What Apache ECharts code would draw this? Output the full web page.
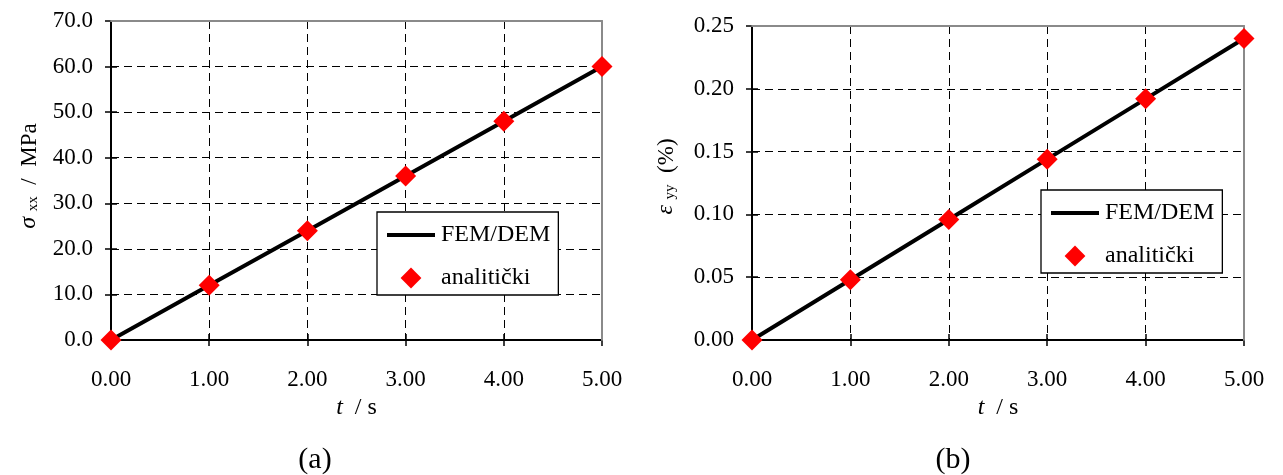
<!DOCTYPE html>
<html><head><meta charset="utf-8">
<script src="https://cdn.jsdelivr.net/npm/echarts@6/dist/echarts.min.js"></script>
<style>html,body{margin:0;padding:0;background:#fff}#c{width:1283px;height:475px}</style>
</head><body><div id="c"></div>
<script>
const timeS = [0, 1, 2, 3, 4, 5];
const femStressA = [0, 12, 24, 36, 48, 60];
const anaStressA = [0, 12, 24, 36, 48, 60];
const femStrainB = [0, 0.048, 0.096, 0.144, 0.192, 0.240];
const anaStrainB = [0, 0.048, 0.096, 0.144, 0.192, 0.240];
const seriesNames = ['FEM/DEM', 'analitički'];
const captions = ['(a)', '(b)'];

const FONT = 'Liberation Serif';
const pair = (xs, ys) => xs.map((x, i) => [x, ys[i]]);

function axesFor(gi, dim, cfg) {
  const main = {
    type: 'value', gridIndex: gi, min: cfg.min, max: cfg.max, interval: cfg.interval,
    position: dim === 'x' ? 'bottom' : 'left',
    axisLine: { show: true, onZero: false, lineStyle: { color: '#000', width: 2 } },
    axisTick: { show: true, inside: false, length: 6, lineStyle: { color: '#000', width: 1.5 } },
    axisLabel: { show: true, color: '#000', fontFamily: FONT, fontSize: 23, margin: dim === 'x' ? 28 : 18,
      formatter: v => v.toFixed(cfg.dec) },
    splitLine: { show: true, lineStyle: { color: '#000', width: 1, type: [8, 5] } },
    name: cfg.name, nameLocation: 'middle', nameGap: cfg.nameGap,
    nameRotate: dim === 'y' ? 90 : 0,
    nameTextStyle: { color: '#000', fontFamily: FONT, fontSize: 23, padding: cfg.namePad || 0, rich: cfg.rich || {} },
    z: 2
  };
  const inner = {
    type: 'value', gridIndex: gi, min: cfg.min, max: cfg.max, interval: cfg.interval,
    position: dim === 'x' ? 'bottom' : 'left',
    axisLine: { show: false, onZero: false },
    axisTick: { show: true, inside: true, length: 6, lineStyle: { color: '#000', width: 1.5 } },
    axisLabel: { show: false }, splitLine: { show: false }, z: 2
  };
  const border = {
    type: 'value', gridIndex: gi, min: cfg.min, max: cfg.max, interval: cfg.interval,
    position: dim === 'x' ? 'top' : 'right',
    axisLine: { show: true, onZero: false, lineStyle: { color: '#8a8a8a', width: 2 } },
    axisTick: { show: false }, axisLabel: { show: false }, splitLine: { show: false }, z: 3
  };
  return [main, inner, border];
}

const richY = {
  i: { fontFamily: FONT, fontSize: 24, fontStyle: 'italic', color: '#000', verticalAlign: 'bottom' },
  s: { fontFamily: FONT, fontSize: 15, color: '#000', verticalAlign: 'bottom' },
  n: { fontFamily: FONT, fontSize: 23, color: '#000', verticalAlign: 'bottom' }
};
const richX = {
  i: { fontFamily: FONT, fontSize: 24, fontStyle: 'italic', color: '#000' },
  n: { fontFamily: FONT, fontSize: 24, color: '#000' }
};

const xA = axesFor(0, 'x', { min: 0, max: 5, interval: 1, dec: 2, name: '{i|t}{n|  / s}', nameGap: 56, rich: richX });
const yA = axesFor(0, 'y', { min: 0, max: 70, interval: 10, dec: 1, name: '{i|σ}{n| }{s|xx}{n|  /  MPa}', nameGap: 70, namePad: [0, 0, 0, 9], rich: richY });
const xB = axesFor(1, 'x', { min: 0, max: 5, interval: 1, dec: 2, name: '{i|t}{n|  / s}', nameGap: 56, rich: richX });
const yB = axesFor(1, 'y', { min: 0, max: 0.25, interval: 0.05, dec: 2, name: '{i|ε}{n| }{s|yy}{n|  (%)}', nameGap: 74, namePad: [0, 0, 0, 13], rich: richY });

function legendFor(gi, left, top) {
  return {
    show: true, orient: 'vertical', left: left, top: top,
    data: [
      { name: seriesNames[0], itemStyle: { opacity: 0 }, lineStyle: { width: 4, color: '#000' } },
      { name: seriesNames[1], lineStyle: { opacity: 0, width: 0 } }
    ],
    itemWidth: 48, itemHeight: 26, itemGap: 19,
    padding: [11, 8, 5, 8],
    backgroundColor: '#fff', borderColor: '#000', borderWidth: 1.3, borderRadius: 0,
    textStyle: { fontFamily: FONT, fontSize: 24, color: '#000', padding: [0, 0, 0, 1] },
    selectedMode: false
  };
}

function seriesFor(gi, femY, anaY) {
  return [
    { name: seriesNames[0], type: 'line', xAxisIndex: gi * 3, yAxisIndex: gi * 3,
      data: pair(timeS, femY), symbol: 'none', lineStyle: { color: '#000', width: 4 }, itemStyle: { color: '#000' },
      z: 3, animation: false },
    { name: seriesNames[1], type: 'line', xAxisIndex: gi * 3, yAxisIndex: gi * 3,
      data: pair(timeS, anaY), symbol: 'diamond', symbolSize: 21, showSymbol: true,
      lineStyle: { width: 0, opacity: 0 }, itemStyle: { color: '#ff0000' }, z: 4, animation: false }
  ];
}

const capStyle = { fontFamily: FONT, fontSize: 30, fontWeight: 'normal', color: '#000' };
const chart = echarts.init(document.getElementById('c'), null, { renderer: 'canvas' });
chart.setOption({
  backgroundColor: '#fff',
  animation: false,
  textStyle: { fontFamily: FONT },
  title: [
    { text: captions[0], left: 315, top: 445, textAlign: 'center', padding: 0, textStyle: capStyle },
    { text: captions[1], left: 953, top: 445, textAlign: 'center', padding: 0, textStyle: capStyle }
  ],
  grid: [
    { left: 111, right: 681, top: 21, bottom: 135, containLabel: false },
    { left: 752, right: 39, top: 26, bottom: 135, containLabel: false }
  ],
  xAxis: [...xA, ...xB],
  yAxis: [...yA, ...yB],
  legend: [legendFor(0, 377, 212), legendFor(1, 1041, 190)],
  series: [...seriesFor(0, femStressA, anaStressA), ...seriesFor(1, femStrainB, anaStrainB)]
});
</script></body></html>
